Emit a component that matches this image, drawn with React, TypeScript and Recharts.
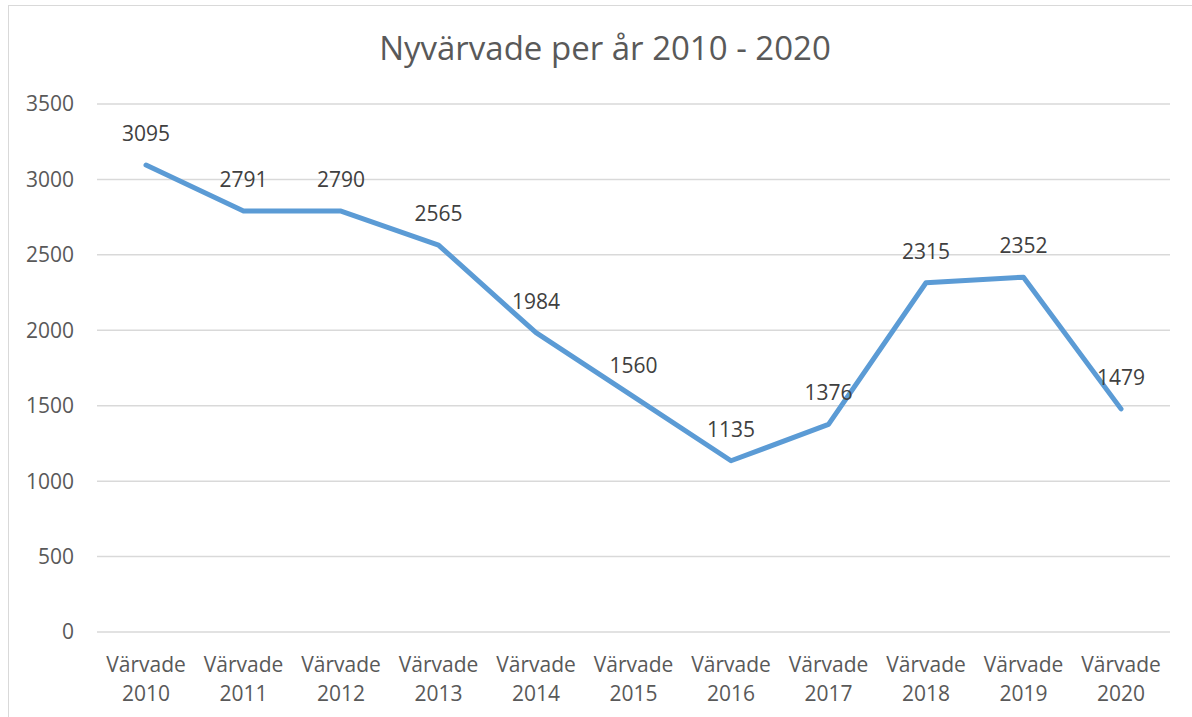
import React from 'react';
import { LineChart, Line, XAxis, YAxis, CartesianGrid, LabelList } from 'recharts';

const categories = [
  'Värvade 2010', 'Värvade 2011', 'Värvade 2012', 'Värvade 2013', 'Värvade 2014', 'Värvade 2015',
  'Värvade 2016', 'Värvade 2017', 'Värvade 2018', 'Värvade 2019', 'Värvade 2020',
];
const recruited = [3095, 2791, 2790, 2565, 1984, 1560, 1135, 1376, 2315, 2352, 1479];
const yTicks = [0, 500, 1000, 1500, 2000, 2500, 3000, 3500];

const data = categories.map((name, i) => ({ name, value: recruited[i] }));

const FONT = '"Open Sans", Calibri, sans-serif';

const XTick = (props: any) => {
  const { x, y, payload } = props;
  const [word, year] = String(payload.value).split(' ');
  return (
    <g transform={`translate(${x},${y})`}>
      <text textAnchor="middle" fill="#595959" fontSize={21} fontFamily={FONT}>
        <tspan x={0} y={32}>{word}</tspan>
        <tspan x={0} y={61}>{year}</tspan>
      </text>
    </g>
  );
};

const ValueLabel = (props: any) => {
  const { x, y, value } = props;
  return (
    <text x={x} y={y - 32} textAnchor="middle" dominantBaseline="central" fill="#404040" fontSize={21} fontFamily={FONT}>
      {value}
    </text>
  );
};

export default function App() {
  return (
    <div style={{ position: 'fixed', left: 0, top: 0, width: 1192, height: 717, overflow: 'hidden', background: '#fff' }}>
      <div style={{ position: 'absolute', left: 8, top: 5, width: 1300, height: 800, border: '1.5px solid #d9d9d9' }} />
      <div
        style={{
          position: 'absolute', left: 0, top: 27, width: 1210, textAlign: 'center',
          fontFamily: FONT, fontSize: 33, color: '#595959', lineHeight: '42px',
        }}
      >
        Nyvärvade per år 2010 - 2020
      </div>
      <div style={{ position: 'absolute', left: 0, top: 0 }}>
        <LineChart width={1192} height={717} data={data} margin={{ top: 104, right: 22, bottom: 0, left: 0 }}>
          <CartesianGrid vertical={false} stroke="#d9d9d9" strokeWidth={1.5} />
          <XAxis
            dataKey="name"
            axisLine={false}
            tickLine={false}
            interval={0}
            padding={{ left: 49, right: 49 }}
            tick={<XTick />}
            height={85}
          />
          <YAxis
            width={97}
            domain={[0, 3500]}
            ticks={yTicks}
            axisLine={false}
            tickLine={false}
            tickMargin={17}
            tick={{ fill: '#595959', fontSize: 21, fontFamily: FONT }}
          />
          <Line
            type="linear"
            dataKey="value"
            stroke="#5b9bd5"
            strokeWidth={5}
            strokeLinecap="round"
            strokeLinejoin="round"
            dot={false}
            activeDot={false}
            isAnimationActive={false}
          >
            <LabelList dataKey="value" content={<ValueLabel />} />
          </Line>
        </LineChart>
      </div>
    </div>
  );
}
